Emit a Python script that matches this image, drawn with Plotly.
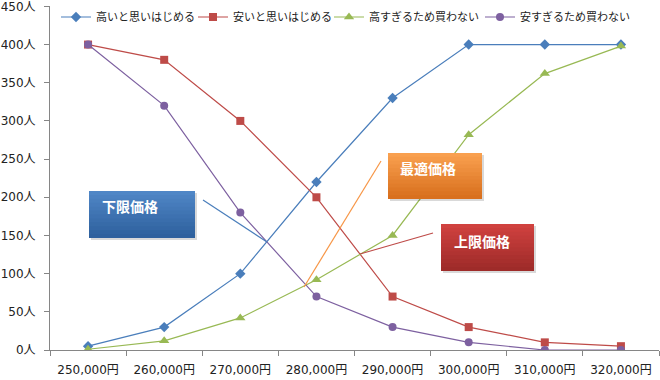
import plotly.graph_objects as go

categories = ["250,000円", "260,000円", "270,000円", "280,000円", "290,000円", "300,000円", "310,000円", "320,000円"]
takai = [5, 30, 100, 220, 330, 400, 400, 400]
yasui = [400, 380, 300, 200, 70, 30, 10, 5]
takasugi = [1, 12, 42, 92, 150, 282, 362, 398]
yasusugi = [400, 320, 180, 70, 30, 10, 0, 0]
series_names = ["高いと思いはじめる", "安いと思いはじめる", "高すぎるため買わない", "安すぎるため買わない"]
y_ticks = [0, 50, 100, 150, 200, 250, 300, 350, 400, 450]
y_ticktext = [f"{v}人" for v in y_ticks]

FONT = "DejaVu Sans, Noto Sans CJK JP"
W, H = 660, 380
L, R, T, B = 50, 1, 6, 30
PW = W - L - R
PH = H - T - B


def px(x):
    return (x - L) / PW


def py(y):
    return (H - B - y) / PH


fig = go.Figure()
styles = [
    (takai, "#4A7EBB", "diamond", 8),
    (yasui, "#BE4B48", "square", 8),
    (takasugi, "#98B954", "triangle-up", 9),
    (yasusugi, "#7D60A0", "circle", 8),
]
legend_ids = ["legend", "legend2", "legend3", "legend4"]
legend_marker_x = [79, 216, 352, 503]
for name, (vals, col, sym, size), lid in zip(series_names, styles, legend_ids):
    fig.add_trace(go.Scatter(
        x=categories, y=vals, name=name, mode="lines+markers",
        line=dict(color=col, width=1.2),
        marker=dict(symbol=sym, size=size, color=col),
        legend=lid,
    ))

shapes = []
annotations = []


def hexrgb(h):
    h = h.lstrip("#")
    return tuple(int(h[i:i + 2], 16) for i in (0, 2, 4))


def box(x0, y0, x1, y1, top, bottom, label, tx, ty):
    shapes.append(dict(type="rect", xref="paper", yref="paper", layer="above",
                       x0=px(x0 + 2), x1=px(x1 + 2), y0=py(y1 + 2), y1=py(y0 + 2),
                       line=dict(width=0), fillcolor="rgba(0,0,0,0.15)"))
    n = 12
    ct, cb = hexrgb(top), hexrgb(bottom)
    for i in range(n):
        f = i / (n - 1)
        c = tuple(int(ct[k] + (cb[k] - ct[k]) * f) for k in range(3))
        ya = y0 + (y1 - y0) * i / n
        yb = min(y1, y0 + (y1 - y0) * (i + 1) / n + 1)
        shapes.append(dict(type="rect", xref="paper", yref="paper", layer="above",
                           x0=px(x0), x1=px(x1), y0=py(yb), y1=py(ya),
                           line=dict(width=0), fillcolor="rgb(%d,%d,%d)" % c))
    annotations.append(dict(xref="paper", yref="paper", x=px(tx), y=py(ty),
                            xanchor="left", yanchor="middle", showarrow=False,
                            text="<b>%s</b>" % label,
                            font=dict(family=FONT, size=14, color="white")))


def line(x0, y0, x1, y1, col):
    shapes.append(dict(type="line", xref="paper", yref="paper", layer="above",
                       x0=px(x0), y0=py(y0), x1=px(x1), y1=py(y1),
                       line=dict(color=col, width=1.2)))


line(203, 200, 267, 242, "#4A7EBB")
line(381, 161, 304, 287, "#F79646")
line(433, 233, 360, 254, "#BE4B48")
box(89, 191, 195, 238, "#4F86C6", "#2F619E", "下限価格", 100, 207)
box(388, 153, 482, 199, "#F9A04F", "#D9701E", "最適価格", 398, 169)
box(441, 224, 534, 271, "#D0423F", "#9E2B29", "上限価格", 452, 242)

layout_legends = {}
for lid, mx in zip(legend_ids, legend_marker_x):
    layout_legends[lid] = dict(
        orientation="h", x=px(mx - 23), y=py(17), xanchor="left", yanchor="middle",
        bgcolor="rgba(0,0,0,0)", font=dict(family=FONT, size=11, color="#222"),
        itemwidth=30,
    )

fig.update_layout(
    width=W, height=H,
    margin=dict(l=L, r=R, t=T, b=B, autoexpand=False),
    paper_bgcolor="white", plot_bgcolor="white",
    font=dict(family=FONT, size=12, color="#222"),
    showlegend=True,
    xaxis=dict(type="category", range=[-0.5, 7.5], showgrid=False, showline=True,
               linecolor="#868686", linewidth=1, ticks="outside", tickson="boundaries",
               ticklen=5, tickcolor="#868686", tickfont=dict(size=12, color="#222"),
               zeroline=False, automargin=False, fixedrange=True,
               ticklabeloverflow="allow", ticklabelstandoff=9),
    yaxis=dict(range=[0, 450.5], tickmode="array", tickvals=y_ticks, ticktext=y_ticktext,
               showgrid=False, showline=True, linecolor="#868686", linewidth=1,
               ticks="outside", ticklen=5, tickcolor="#868686",
               tickfont=dict(size=12, color="#222"),
               zeroline=False, automargin=False, fixedrange=True,
               ticklabeloverflow="allow", ticklabelstandoff=6),
    shapes=shapes,
    annotations=annotations,
    **layout_legends,
)

fig.write_html("out.html", config={"displayModeBar": False},
               post_script="document.body.style.margin='0px';")
